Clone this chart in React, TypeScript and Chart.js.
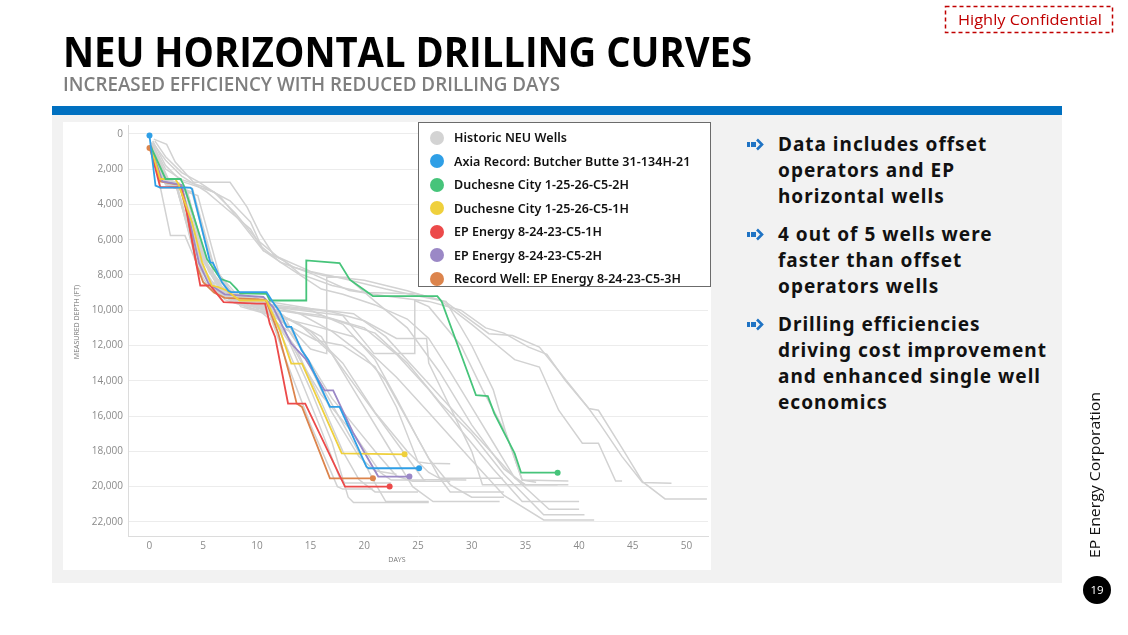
import React, { useEffect, useRef } from "react";
import { Chart, registerables } from "chart.js";

Chart.register(...registerables);

type Pt = [number, number];

// ---------- axis ticks ----------
const X_TICKS = [0, 5, 10, 15, 20, 25, 30, 35, 40, 45, 50];
const Y_TICKS = [0, 2000, 4000, 6000, 8000, 10000, 12000, 14000, 16000, 18000, 20000, 22000];

// ---------- highlighted wells: [day, measured depth ft] ----------
const AXIA_RECORD: Pt[] = [
  [0, 100], [0.56, 2940], [1, 3050], [3.8, 3050], [3.96, 3130], [5.66, 7300], [5.9, 7300],
  [6.74, 8400], [7.35, 8900], [7.6, 8975], [10.9, 8975], [11.5, 9550], [12.15, 10100],
  [12.77, 10950], [13.2, 10950], [14.16, 12270], [14.8, 12840], [16.8, 15480], [17.7, 15480],
  [20.2, 18870], [20.4, 18960], [25.1, 18960],
];
const DUCHESNE_2H: Pt[] = [
  [0.1, 700], [1.5, 2560], [2.9, 2560], [3.2, 2940], [4.1, 4640], [5.35, 7090], [6.6, 8220],
  [7.5, 8410], [8.1, 8790], [8.44, 9050], [10.9, 9070], [11.2, 9450], [14.6, 9450], [14.6, 7180],
  [17.7, 7330], [18.65, 8270], [20.8, 9200], [26.8, 9200], [27.2, 9500], [30.4, 14820],
  [31.5, 14870], [32.1, 15850], [34, 18120], [34.6, 19210], [38, 19210],
];
const DUCHESNE_1H: Pt[] = [
  [0.1, 700], [1.0, 2560], [2.4, 2560], [2.7, 2850], [3.96, 5020], [4.9, 7280], [5.8, 8600],
  [6.4, 8690], [7.2, 8880], [8.4, 9450], [10.9, 9450], [12.15, 11140], [13.2, 13030],
  [14.2, 13030], [17.9, 18120], [23.75, 18170],
];
const EP_1H: Pt[] = [
  [0.1, 700], [0.4, 1620], [1.0, 3030], [2.9, 3030], [3.3, 3880], [4.73, 8600], [5.66, 8600],
  [6.9, 9540], [10.0, 9630], [10.76, 9630], [11.2, 10760], [11.7, 11520], [12.9, 15290],
  [14.5, 15290], [18.2, 20000], [22.36, 20000],
];
const EP_2H: Pt[] = [
  [0.1, 700], [1.2, 2700], [3, 2900], [4.6, 7300], [5.5, 8500], [7, 9100], [10.6, 9250],
  [11.5, 9820], [13.2, 11890], [14.5, 12740], [16.3, 14540], [17.1, 14540], [19.0, 16990],
  [21.3, 19430], [24.2, 19430],
];
const EP_3H_RECORD: Pt[] = [
  [0, 800], [1, 2700], [2.8, 2900], [3.5, 4500], [4.4, 7470], [5.0, 8410], [6, 9000], [7, 9300],
  [10.8, 9400], [11.2, 10000], [12, 11330], [13.1, 13780], [13.7, 15290], [14.2, 15480],
  [16.8, 19530], [20.8, 19530],
];

const WELL_NAMES = [
  "Axia Record: Butcher Butte 31-134H-21",
  "Duchesne City 1-25-26-C5-2H",
  "Duchesne City 1-25-26-C5-1H",
  "EP Energy 8-24-23-C5-1H",
  "EP Energy 8-24-23-C5-2H",
  "Record Well: EP Energy 8-24-23-C5-3H",
];
const WELL_DATA: Pt[][] = [AXIA_RECORD, DUCHESNE_2H, DUCHESNE_1H, EP_1H, EP_2H, EP_3H_RECORD];
const WELL_COLORS = ["#2f9fe6", "#46c47a", "#efd03c", "#ec4a4a", "#9b88c6", "#dc844c"];
const WELL_START_DOT = [true, false, false, false, false, true];

const HISTORIC_LABEL = "Historic NEU Wells";
const HISTORIC_COLOR = "#d2d2d2";

// ---------- historic NEU wells ----------
const HISTORIC_WELLS: Pt[][] = [
  [[0.3, 700], [1, 2500], [2.5, 2900], [4.5, 7600], [5.5, 8700], [7, 9200], [10, 9500], [11, 9900], [12.5, 12500], [15, 16500], [17.5, 20000], [18, 20140], [20.8, 20140]],
  [[0.3, 800], [1.2, 2700], [3, 3100], [4.6, 7000], [6, 8900], [8, 9600], [11, 10000], [13, 11800], [15, 14500], [17, 17500], [18.5, 20600], [19, 20900], [26, 20900]],
  [[0.2, 600], [1, 2600], [2.5, 3000], [4.4, 7200], [5.8, 8800], [8, 9400], [10.5, 9600], [12, 11000], [14, 13800], [16, 16800], [17.7, 19500], [18.2, 19800], [22.5, 19800]],
  [[0.3, 600], [1, 3000], [1.95, 5770], [3.3, 5770], [4.5, 7500], [6, 8800], [8, 9500], [11, 10000], [13.5, 12000], [16, 15200], [18, 18000], [19.5, 19600], [21, 20300], [25, 20300]],
  [[0.2, 500], [1, 2400], [2.8, 2900], [4.8, 7400], [6.5, 9000], [9, 9800], [12, 10300], [14, 12000], [16.5, 14800], [19, 17500], [21, 19800], [22, 20850], [26, 20850]],
  [[0.3, 600], [1.5, 2800], [3, 3200], [5, 7800], [7, 9400], [10, 10000], [13, 10500], [16, 11500], [19, 14500], [22, 17500], [24.5, 20000], [26.4, 20850], [32.6, 20850]],
  [[0.2, 700], [1, 2600], [2.5, 3000], [4.2, 6500], [5.5, 8400], [7, 9100], [10, 9400], [12, 10500], [14, 12800], [16, 14800], [19, 17000], [21.5, 19200], [22.5, 19630], [25.7, 19630]],
  [[0.4, 900], [1.5, 2800], [3.5, 3300], [5.5, 7600], [7.5, 9300], [11, 9900], [14, 10800], [17, 12500], [20, 15000], [23, 17500], [25.5, 19600], [29.5, 19630]],
  [[0.3, 600], [2, 2900], [4, 3400], [6, 8000], [8.5, 9600], [12, 10200], [15, 11200], [18, 13000], [21, 15800], [24, 18000], [26, 19200], [27, 19530], [32.9, 19530]],
  [[0.3, 700], [1.8, 2800], [4, 3100], [6, 7500], [8, 9300], [12, 10000], [16, 10300], [20, 11000], [23, 12500], [26, 14500], [29, 16800], [32, 19000], [34.7, 20850], [40, 20850]],
  [[0.2, 500], [1.5, 2700], [3.5, 3200], [5.2, 7200], [7, 9000], [11, 9500], [15, 9900], [19, 10200], [22, 11500], [25, 13500], [28, 15500], [31, 17500], [34, 19500], [37.2, 21280], [40, 21280]],
  [[0.5, 1000], [2, 3000], [4.5, 3500], [6.5, 8000], [9, 9700], [13, 10100], [17, 10500], [21, 11300], [24, 13000], [27, 15200], [30, 17000], [33, 19300], [36.7, 21600], [40.5, 21600]],
  [[0.3, 800], [2, 2900], [4, 3300], [6, 7600], [8.5, 9800], [12, 10400], [16, 11000], [19, 11500], [23, 13800], [26, 15800], [30, 18500], [33, 20500], [36.7, 21890], [41.4, 21890]],
  [[0.3, 700], [1.5, 2700], [3, 3100], [5, 7000], [7, 8900], [10, 9800], [13, 10900], [15, 12200], [16.5, 12460], [16.5, 8130], [18.4, 8130], [21, 9500], [24, 11000], [27, 13500], [30, 16500], [33, 19000], [35, 19900], [39, 19900]],
  [[0.2, 600], [1.3, 2700], [3, 3000], [5, 7200], [7, 9200], [10, 9700], [14, 10000], [18, 10300], [20.9, 12460], [24.7, 12460], [24.7, 9450], [26, 9800], [29, 12000], [31, 14500], [33.2, 16990], [34.7, 19630], [36, 19750]],
  [[0.4, 300], [1.6, 600], [2.4, 1600], [4.1, 2750], [7.5, 2750], [9.1, 4170], [10.3, 5670], [11.5, 6810], [13.4, 7560], [16.2, 8030], [20, 8300], [24, 8900], [27.6, 9540], [31.6, 11330], [33.8, 11430], [36.3, 12090], [37.8, 13220], [40.9, 15570], [41.8, 15670], [44.2, 18020], [45.9, 19720], [48, 20700], [51.9, 20700]],
  [[0.3, 500], [1.5, 1500], [3, 2400], [5.35, 3310], [7.2, 4260], [9.4, 5390], [10.3, 6330], [12.2, 7280], [15, 7900], [18.6, 8880], [22, 9200], [26, 9500], [29, 10000], [31.3, 11000], [33, 11300], [35.3, 12090], [37, 12500], [38.7, 13970], [40.9, 15570], [42, 16500], [44, 18300], [45.9, 19770], [48.6, 19810]],
  [[0.5, 400], [1.5, 1300], [3, 2200], [4.5, 2700], [6.5, 3500], [8.5, 5000], [10.6, 6620], [12.5, 7180], [14, 7940], [17, 8600], [20, 9000], [24.8, 9070], [27, 9400], [30, 10800], [32, 11800], [34, 12800], [36.3, 13220], [38.1, 15670], [40.3, 17540], [41.8, 17540], [43.4, 19680], [44, 19680]],
  [[0.3, 400], [1.5, 1800], [3, 2700], [6, 3300], [8, 4500], [10, 6000], [12, 7000], [15, 7800], [18, 8200], [22, 8800], [25, 9200], [27.6, 9500], [30, 12000], [32, 14500], [33.2, 16990], [34.7, 19630], [39, 19680]],
  [[0.3, 600], [1.5, 2000], [3, 2600], [5, 3000], [7.5, 3800], [9.4, 5000], [10.6, 6620], [12.5, 7400], [14, 8000], [16, 8800], [18, 9100], [21, 9700], [24, 10500], [26, 11600], [28, 13500], [30, 15500], [32, 17500], [34, 19500], [35, 19900], [38, 19900]],
  [[0.2, 600], [1.2, 2700], [3, 3100], [5, 7200], [6.5, 8800], [9, 9500], [13, 9800], [17, 10100], [20, 10600], [23, 11600], [25.8, 11600], [26, 13000], [28, 15500], [30, 18000], [31, 19900], [35, 19900]],
  [[0.4, 800], [1.5, 2800], [3, 3200], [4.8, 6800], [6.5, 8600], [9, 9300], [12, 9800], [15, 10000], [18, 10800], [21, 12800], [23, 15000], [25, 17300], [27, 19500], [28, 20300], [33, 20300]],
  [[0.3, 700], [1.2, 2500], [2.8, 2800], [4.5, 7000], [6, 8700], [9, 9400], [11, 10400], [13, 11200], [15, 13000], [17, 15000], [19, 16500], [21, 18000], [23, 19400], [24.5, 19700], [28, 19700]],
  [[0.2, 500], [1, 2300], [2.5, 2800], [4.3, 6600], [5.6, 8300], [7.5, 9000], [10, 9300], [12.5, 10300], [14.5, 12600], [17, 15800], [19.5, 18300], [21, 19100], [23, 19300]],
  [[0.3, 900], [1.5, 2900], [3.5, 3300], [5.5, 7800], [7.5, 9400], [11, 9700], [14, 10200], [17, 11200], [20, 12600], [22, 14000], [24, 16200], [26, 18400], [28, 19900], [30, 20600], [33, 20600]],
  [[0.3, 600], [1.4, 2600], [3.2, 3000], [5.2, 7300], [7, 9100], [10, 9500], [13, 10900], [15.5, 11700], [18, 12000], [21, 13200], [23, 15500], [25, 18600], [25.9, 18670], [28, 18700]],
];

const RIGHT_POINTS: string[][] = [
  ["Data includes offset", "operators and EP", "horizontal wells"],
  ["4 out of 5 wells were", "faster than offset", "operators wells"],
  ["Drilling efficiencies", "driving cost improvement", "and enhanced single well", "economics"],
];

function ArrowIcon() {
  return (
    <svg width="17" height="13" viewBox="0 0 17 13" style={{ position: "absolute", left: -31, top: 7 }}>
      <rect x="0" y="4" width="3" height="5" fill="#1f73c4" />
      <rect x="4" y="4" width="5" height="5" fill="#1f73c4" />
      <polyline points="10,1.5 15,6.5 10,11.5" fill="none" stroke="#1f73c4" strokeWidth="2.6" />
    </svg>
  );
}

export default function App() {
  const canvasRef = useRef<HTMLCanvasElement | null>(null);

  useEffect(() => {
    if (!canvasRef.current) return;
    const toXY = (pts: Pt[]) => pts.map(([x, y]) => ({ x, y }));
    const wellSets = WELL_DATA.map((pts, i) => ({
      label: WELL_NAMES[i],
      data: toXY(pts),
      borderColor: WELL_COLORS[i],
      backgroundColor: WELL_COLORS[i],
      borderWidth: 1.8,
      tension: 0,
      order: 0,
      pointRadius: (ctx: any) =>
        ctx.dataIndex === pts.length - 1 || (WELL_START_DOT[i] && ctx.dataIndex === 0) ? 3 : 0,
      pointHoverRadius: 0,
      pointBorderWidth: 0,
    }));
    const histSets = HISTORIC_WELLS.map((pts) => ({
      label: HISTORIC_LABEL,
      data: toXY(pts),
      borderColor: HISTORIC_COLOR,
      backgroundColor: HISTORIC_COLOR,
      borderWidth: 1.5,
      tension: 0,
      order: 1,
      pointRadius: 0,
      pointHoverRadius: 0,
    }));

    const zeroPad = (s: any) => {
      s.paddingTop = 0;
      s.paddingBottom = 0;
      s.paddingLeft = 0;
      s.paddingRight = 0;
    };

    const chart = new Chart(canvasRef.current, {
      type: "line",
      data: { datasets: [...wellSets, ...histSets] as any },
      options: {
        animation: false,
        responsive: false,
        events: [],
        layout: { padding: { top: 2, right: 1, left: 0, bottom: 0 } },
        plugins: { legend: { display: false }, tooltip: { enabled: false } },
        scales: {
          x: {
            type: "linear",
            min: -2,
            max: 52,
            afterBuildTicks: (s: any) => {
              s.ticks = X_TICKS.map((v) => ({ value: v }));
            },
            afterFit: (s: any) => {
              s.height = 34;
              zeroPad(s);
            },
            grid: { display: false, drawTicks: false },
            border: { display: true, color: "#dcdcdc", width: 1 },
            ticks: { color: "#8a8a8a", font: { family: "Open Sans", size: 10 }, padding: 4, maxRotation: 0 },
          },
          y: {
            type: "linear",
            reverse: true,
            min: -500,
            max: 22800,
            afterBuildTicks: (s: any) => {
              s.ticks = Y_TICKS.map((v) => ({ value: v }));
            },
            afterFit: (s: any) => {
              s.width = 65;
              zeroPad(s);
            },
            grid: { color: "#ececec", drawTicks: false, lineWidth: 1 },
            border: { display: true, color: "#dcdcdc", width: 1 },
            ticks: {
              color: "#8a8a8a",
              font: { family: "Open Sans", size: 10 },
              padding: 5,
              callback: (v: any) => Number(v).toLocaleString("en-US"),
            },
          },
        },
      },
    });
    return () => chart.destroy();
  }, []);

  const legendItems = [
    { name: HISTORIC_LABEL, color: "#d3d3d3" },
    ...WELL_NAMES.map((n, i) => ({ name: n, color: WELL_COLORS[i] })),
  ];

  const paraTops = [131, 221, 311];

  return (
    <div
      style={{
        position: "fixed",
        left: 0,
        top: 0,
        width: 1128,
        height: 635,
        background: "#ffffff",
        overflow: "hidden",
        fontFamily: "'Noto Sans', sans-serif",
      }}
    >
      {/* blue rule and grey panel */}
      <div style={{ position: "absolute", left: 52, top: 106, width: 1010, height: 9, background: "#0070c0" }} />
      <div style={{ position: "absolute", left: 52, top: 115, width: 1010, height: 468, background: "#f2f2f2" }} />

      {/* chart box */}
      <div style={{ position: "absolute", left: 63, top: 122, width: 648, height: 448, background: "#ffffff" }}>
        <canvas ref={canvasRef} width={648} height={448} style={{ display: "block" }} />
        <div
          style={{
            position: "absolute",
            left: 334 - 40,
            top: 434,
            width: 80,
            textAlign: "center",
            fontFamily: "'Open Sans', sans-serif",
            fontSize: 7,
            color: "#777",
            lineHeight: "8px",
          }}
        >
          DAYS
        </div>
        <div
          style={{
            position: "absolute",
            left: 14 - 60,
            top: 200 - 4,
            width: 120,
            textAlign: "center",
            transform: "rotate(-90deg)",
            fontFamily: "'Open Sans', sans-serif",
            fontSize: 7,
            color: "#777",
            lineHeight: "8px",
          }}
        >
          MEASURED DEPTH (FT)
        </div>
      </div>

      {/* legend */}
      <div
        style={{
          position: "absolute",
          left: 418,
          top: 122,
          width: 291,
          height: 163,
          background: "#ffffff",
          border: "1px solid #6b6b6b",
          boxSizing: "content-box",
        }}
      >
        {legendItems.map((it, i) => (
          <div
            key={i}
            style={{
              position: "absolute",
              left: 0,
              top: 3 + i * 23.5,
              height: 23.5,
              display: "flex",
              alignItems: "center",
              whiteSpace: "nowrap",
            }}
          >
            <span
              style={{
                display: "inline-block",
                width: 14,
                height: 14,
                borderRadius: 7,
                background: it.color,
                marginLeft: 11,
                marginRight: 10,
              }}
            />
            <span style={{ fontSize: 12.5, fontWeight: 600, color: "#111", letterSpacing: 0.05 }}>{it.name}</span>
          </div>
        ))}
      </div>

      {/* right bullets */}
      {RIGHT_POINTS.map((lines, p) => (
        <div
          key={p}
          style={{
            position: "absolute",
            left: 778,
            top: paraTops[p],
            fontSize: 19,
            lineHeight: "26px",
            fontWeight: 700,
            color: "#111",
            whiteSpace: "nowrap",
            letterSpacing: 1.0,
          }}
        >
          <ArrowIcon />
          {lines.map((l, k) => (
            <div key={k}>{l}</div>
          ))}
        </div>
      ))}

      {/* titles and decorations */}
      <svg width={1128} height={635} style={{ position: "absolute", left: 0, top: 0, pointerEvents: "none" }}>
        <text
          x={63}
          y={67}
          fontFamily="'Open Sans', sans-serif"
          fontWeight={700}
          fontSize={41}
          textLength={689}
          lengthAdjust="spacingAndGlyphs"
          fill="#000"
        >
          NEU HORIZONTAL DRILLING CURVES
        </text>
        <text
          x={63}
          y={91}
          fontFamily="'Open Sans', sans-serif"
          fontWeight={600}
          fontSize={19}
          textLength={497}
          lengthAdjust="spacingAndGlyphs"
          fill="#7f7f7f"
        >
          INCREASED EFFICIENCY WITH REDUCED DRILLING DAYS
        </text>

        <rect x={945.5} y={6.5} width={167} height={26} fill="none" stroke="#c00000" strokeWidth={1.5} strokeDasharray="4 3" />
        <text
          x={958}
          y={25}
          fontFamily="'Open Sans', sans-serif"
          fontSize={15}
          textLength={144}
          lengthAdjust="spacingAndGlyphs"
          fill="#c00000"
        >
          Highly Confidential
        </text>

        <text
          transform="translate(1100,558) rotate(-90)"
          fontFamily="'Open Sans', sans-serif"
          fontSize={14.5}
          textLength={166}
          lengthAdjust="spacingAndGlyphs"
          fill="#111"
        >
          EP Energy Corporation
        </text>

        <circle cx={1097} cy={590} r={14} fill="#000" />
        <text x={1097} y={594} textAnchor="middle" fontFamily="'Open Sans', sans-serif" fontSize={11.5} fill="#fff">
          19
        </text>
      </svg>
    </div>
  );
}
